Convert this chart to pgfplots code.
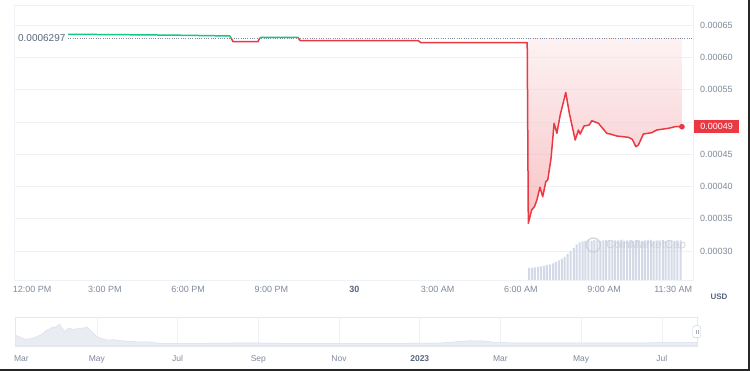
\documentclass[border=0pt]{standalone}
\usepackage{pgfplots}
\pgfplotsset{compat=1.18}
\usepackage{fontspec}
\setmainfont{Liberation Sans}
\definecolor{cmcgreen}{HTML}{16C784}
\definecolor{cmcred}{HTML}{EA3943}
\definecolor{gridc}{HTML}{EEF1F5}
\definecolor{labc}{HTML}{808A9D}
\definecolor{darklab}{HTML}{58667E}
\definecolor{volc}{HTML}{D3D9E6}
\definecolor{navfill}{HTML}{E9ECF2}
\definecolor{navedge}{HTML}{DCE0E8}
\definecolor{navbox}{HTML}{E4E8EE}
\definecolor{wmark}{HTML}{C5CCDA}
\begin{document}
\begin{tikzpicture}[x=1pt,y=1pt]
\useasboundingbox (0,0) rectangle (750,371);
\fill[white] (0,0) rectangle (750,371);

% ---------------- main price axis ----------------
\begin{axis}[
  at={(14pt,91pt)}, anchor=south west,
  width=679pt, height=275pt, scale only axis,
  xmin=-0.281, xmax=24.21, ymin=0.0002554, ymax=0.00068095,
  axis line style={draw=gridc},
  ymajorgrids, grid style={draw=gridc, line width=0.8pt},
  major tick length=0pt,
  ytick={0.0003,0.00035,0.0004,0.00045,0.0005,0.00055,0.0006,0.00065},
  yticklabels={0.00030,0.00035,0.00040,0.00045,,0.00055,0.00060,0.00065},
  yticklabel pos=right,
  yticklabel style={anchor=west, inner sep=0pt, xshift=7pt, font=\fontsize{9}{10}\selectfont, text=labc},
  xtick={0.37,3,6,9,12,15,18,21,23.5},
  xticklabels={12:00 PM,3:00 PM,6:00 PM,9:00 PM,\textcolor{darklab}{\bfseries 30},3:00 AM,6:00 AM,9:00 AM,11:30 AM},
  xticklabel style={anchor=north, inner sep=0pt, yshift=-6pt, font=\fontsize{9}{10}\selectfont, text=labc},
  clip=false,
]
% gradient fill below the reference price
\addplot[draw=none, top color=cmcred!12, bottom color=cmcred!60, fill opacity=0.5] coordinates {
(18.25,0.0006297) (18.27,0.0003431) (18.39,0.0003637) (18.49,0.0003688) (18.58,0.0003792)
(18.69,0.0003988) (18.79,0.0003843) (18.90,0.0004075) (18.97,0.0004101) (19.09,0.0004437)
(19.20,0.0004979) (19.30,0.0004824) (19.42,0.0005107) (19.62,0.0005455) (19.75,0.0005134)
(19.96,0.0004720) (20.08,0.0004875) (20.14,0.0004813) (20.28,0.0004937) (20.47,0.0004953)
(20.56,0.0005019) (20.80,0.0004979) (21.10,0.0004824) (21.22,0.0004813) (21.46,0.0004782)
(21.88,0.0004762) (22.02,0.0004731) (22.15,0.0004617) (22.24,0.0004643) (22.42,0.0004813)
(22.72,0.0004833) (22.90,0.0004875) (23.32,0.0004901) (23.56,0.0004926) (23.81,0.0004926)
(23.81,0.0006297)} -- cycle;
% reference price dotted line
\addplot[draw=labc, line width=0.6pt, dash pattern=on 0.7pt off 1.6pt] coordinates {(1.67,0.0006297) (24.21,0.0006297)};
% price line segments
\addplot[cmcgreen, line width=1.5pt, line join=round] coordinates {
(1.67,0.0006356) (3.0,0.0006352) (4.5,0.0006347) (6.0,0.0006340) (7.5,0.0006330) (7.55,0.0006297)};
\addplot[cmcred, line width=1.5pt, line join=round] coordinates {
(7.55,0.0006297) (7.62,0.0006242) (8.52,0.0006242) (8.58,0.0006297)};
\addplot[cmcgreen, line width=1.5pt, line join=round] coordinates {
(8.58,0.0006297) (8.63,0.0006310) (9.96,0.0006310) (9.98,0.0006297)};
\addplot[cmcred, line width=1.5pt, line join=round] coordinates {
(9.98,0.0006297) (10.04,0.0006257) (14.3,0.0006257) (14.4,0.0006226) (18.23,0.0006226)
(18.27,0.0003431) (18.39,0.0003637) (18.49,0.0003688) (18.58,0.0003792)
(18.69,0.0003988) (18.79,0.0003843) (18.90,0.0004075) (18.97,0.0004101) (19.09,0.0004437)
(19.20,0.0004979) (19.30,0.0004824) (19.42,0.0005107) (19.62,0.0005455) (19.75,0.0005134)
(19.96,0.0004720) (20.08,0.0004875) (20.14,0.0004813) (20.28,0.0004937) (20.47,0.0004953)
(20.56,0.0005019) (20.80,0.0004979) (21.10,0.0004824) (21.22,0.0004813) (21.46,0.0004782)
(21.88,0.0004762) (22.02,0.0004731) (22.15,0.0004617) (22.24,0.0004643) (22.42,0.0004813)
(22.72,0.0004833) (22.90,0.0004875) (23.32,0.0004901) (23.56,0.0004926) (23.81,0.0004926)};
\addplot[only marks, mark=*, mark size=2.6pt, cmcred] coordinates {(23.81,0.0004926)};
\node[anchor=east, inner sep=0pt, xshift=-2.5pt, font=\fontsize{10}{12}\selectfont, text=darklab]
  at (axis cs:1.67,0.0006297) {0.0006297};
\node[anchor=west, fill=cmcred, text=white, inner sep=0pt, minimum width=45pt, minimum height=13pt,
  font=\fontsize{9}{10}\selectfont, xshift=1pt]
  at ({rel axis cs:1,0}|-{axis cs:0,0.0004926}) {0.00049};
\end{axis}

% ---------------- volume bars ----------------
\begin{axis}[
  at={(14pt,91pt)}, anchor=south west,
  width=679pt, height=275pt, scale only axis,
  xmin=-0.281, xmax=24.21, ymin=0, ymax=275, hide axis,
]
\addplot[ybar, bar width=2pt, fill=volc, draw=none] coordinates {
(18.30,12) (18.41,12) (18.51,12.5) (18.62,13) (18.73,13.5) (18.84,14) (18.94,15) (19.05,15.5)
(19.16,16.5) (19.26,18) (19.37,19.5) (19.48,21) (19.58,23) (19.69,26) (19.80,29) (19.91,32)
(20.01,35.5) (20.12,37.5) (20.23,38.5) (20.33,39) (20.44,39.5) (20.55,39) (20.65,40) (20.76,39.5)
(20.87,39) (20.98,39.5) (21.08,40) (21.19,39.5) (21.30,39) (21.40,39.5) (21.51,39.5) (21.62,40)
(21.72,39) (21.83,39.5) (21.94,39.5) (22.05,39) (22.15,40) (22.26,39.5) (22.37,39) (22.47,39.5)
(22.58,40) (22.69,39.5) (22.79,39) (22.90,39.5) (23.01,39.5) (23.12,40) (23.22,39) (23.33,39.5)
(23.44,39.5) (23.54,39) (23.65,39.5) (23.76,39.5)};
\end{axis}

% watermark
\draw[wmark, line width=1.3pt, opacity=0.8] (593.3,126) circle (7pt);
\node[anchor=west, inner sep=0pt, text=wmark, opacity=0.8, font=\fontsize{11.5}{12}\selectfont] at (606,125.5) {CoinMarketCap};

\node[font=\bfseries\fontsize{8}{10}\selectfont, text=darklab] at (719,74) {USD};

% ---------------- navigator ----------------
\begin{axis}[
  at={(15pt,25pt)}, anchor=south west,
  width=682pt, height=28.7pt, scale only axis,
  xmin=-0.03, xmax=16.87, ymin=0, ymax=28.7,
  axis line style={draw=navbox},
  ytick=\empty,
  major tick length=0pt,
  xtick={0.13,2,4,6,8,10,12,14,16},
  xticklabels={Mar,May,Jul,Sep,Nov,\textcolor{darklab}{\bfseries 2023},Mar,May,Jul},
  xticklabel style={anchor=north, inner sep=0pt, yshift=-9pt, font=\fontsize{8.5}{10}\selectfont, text=labc},
  extra x ticks={2,4,6,8,10,12,14,16}, extra x tick labels={},
  extra x tick style={grid=major, major grid style={draw=gridc, line width=0.6pt}},
]
\addplot[fill=navfill, draw=navedge, line width=0.5pt] coordinates {
(-0.03,11) (0.22,6.7) (0.39,7.5) (0.51,9.3) (0.64,12) (0.76,16) (0.83,17) (0.91,19.3) (0.96,18.2)
(1.01,20) (1.08,22) (1.13,18) (1.21,14.3) (1.26,17) (1.33,17.7) (1.40,16.5) (1.45,17) (1.58,17.7)
(1.68,18) (1.75,19.3) (1.83,16) (1.88,14.3) (2.0,9.3) (2.12,7.5) (2.25,6) (2.40,6.3) (2.57,5.5)
(2.89,4.3) (3.31,4) (3.56,2.7) (4.55,2.7) (5.37,3) (6.04,3) (7.03,2.5) (8.02,2.5) (9.51,2.7)
(10.5,3) (10.99,4.5) (11.24,5.3) (11.61,5) (11.86,3.5) (12.48,3) (13.97,3) (15.45,3) (15.95,3.5)
(16.87,3.5)} \closedcycle;
\end{axis}

% navigator handle
\node[draw=navedge!80!gray, fill=white, rounded corners=2.5pt, minimum width=8pt, minimum height=12pt, inner sep=0pt] at (696.7,39.3) {};
\draw[labc!70, line width=0.4pt] (695.7,37.2) -- (695.7,41.4) (697.7,37.2) -- (697.7,41.4);

% screenshot frame
\fill[black!85] (747.5,0) rectangle (750,371);
\fill[black!85] (0,0) rectangle (750,1.8);
\end{tikzpicture}
\end{document}
